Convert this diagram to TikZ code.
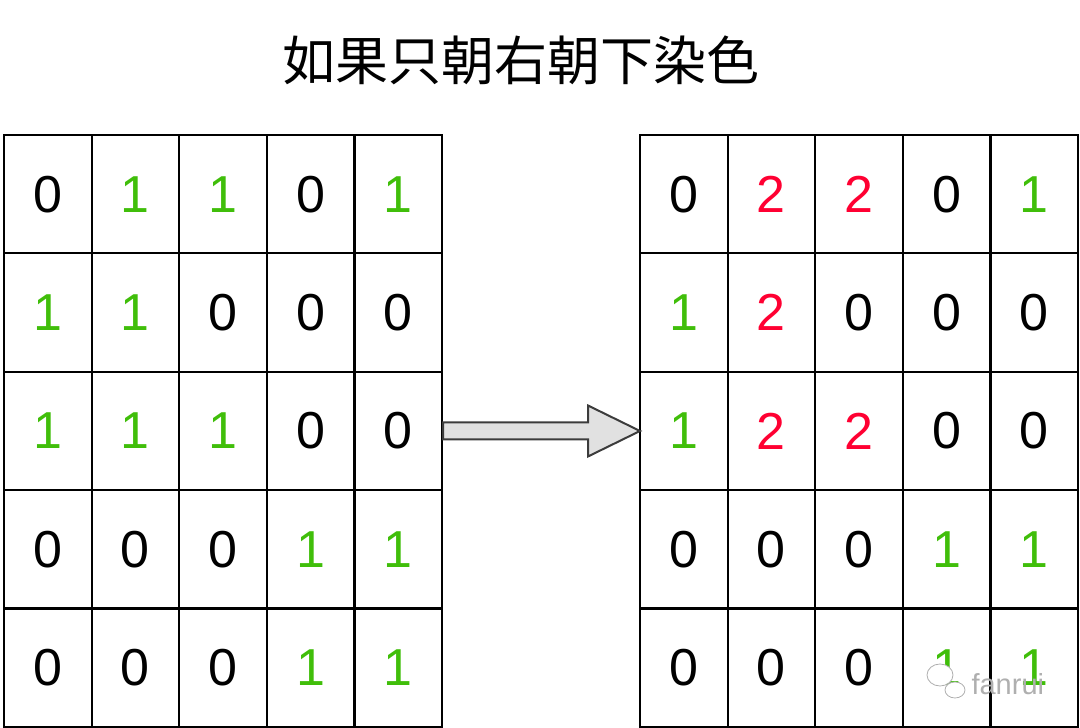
\documentclass[tikz,border=0pt]{standalone}
\usepackage{fontspec}
\setmainfont{Liberation Sans}
\newfontfamily\cjk{Noto Sans CJK SC}
\usepackage{tikz}
\usetikzlibrary{positioning,calc}
\definecolor{onegreen}{RGB}{64,190,10}
\definecolor{twored}{RGB}{255,0,50}
\definecolor{arrowgray}{RGB}{225,225,225}
\definecolor{edgegray}{RGB}{60,60,60}
\definecolor{markgray}{RGB}{175,175,175}
\tikzset{
  cell/.style ={rectangle, draw=black, line width=2.2pt, minimum width=87.6pt,
                minimum height=118.4pt, inner sep=0pt, outer sep=0pt,
                font=\fontsize{52}{52}\selectfont},
  d0/.style   ={text=black},
  d1/.style   ={text=onegreen},
  d2/.style   ={text=twored},
  bigarrow/.style={draw=edgegray, fill=arrowgray, line width=2pt, line join=miter},
  wmark/.style={draw=markgray, fill=white, line width=0.8pt},
}

\begin{document}
\begin{tikzpicture}[x=1pt,y=1pt]
\useasboundingbox (0,0) rectangle (1080,728);
\node[font=\cjk\fontsize{53}{53}\selectfont] (title) at (521,668) {如果只朝右朝下染色};
% left grid
\foreach \row [count=\r] in {{0,1,1,0,1},{1,1,0,0,0},{1,1,1,0,0},{0,0,0,1,1},{0,0,0,1,1}}
  \foreach \v [count=\c] in \row
    \node[cell, d\v] (l-\r-\c) at ({4+(\c-0.5)*87.6},{593-(\r-0.5)*118.4}) {\v};
% right grid
\foreach \row [count=\r] in {{0,2,2,0,1},{1,2,0,0,0},{1,2,2,0,0},{0,0,0,1,1},{0,0,0,1,1}}
  \foreach \v [count=\c] in \row
    \node[cell, d\v] (r-\r-\c) at ({640+(\c-0.5)*87.6},{593-(\r-0.5)*118.4}) {\v};
\draw[bigarrow] ($(l-3-5.east)+(1,8.5)$) -- ($(r-3-1.west)+(-52,8.5)$)
   -- ($(r-3-1.west)+(-52,25.5)$) -- (r-3-1.west) -- ($(r-3-1.west)+(-52,-25.5)$)
   -- ($(r-3-1.west)+(-52,-8.5)$) -- ($(l-3-5.east)+(1,-8.5)$) -- cycle;
% watermark
\draw[wmark] (940,53) ellipse (13 and 11);
\draw[wmark] (955,38) ellipse (10 and 8);
\node[font=\fontsize{29}{29}\selectfont, text=markgray, anchor=west] (wm) at (968,44) {fanrui};
\end{tikzpicture}
\end{document}
